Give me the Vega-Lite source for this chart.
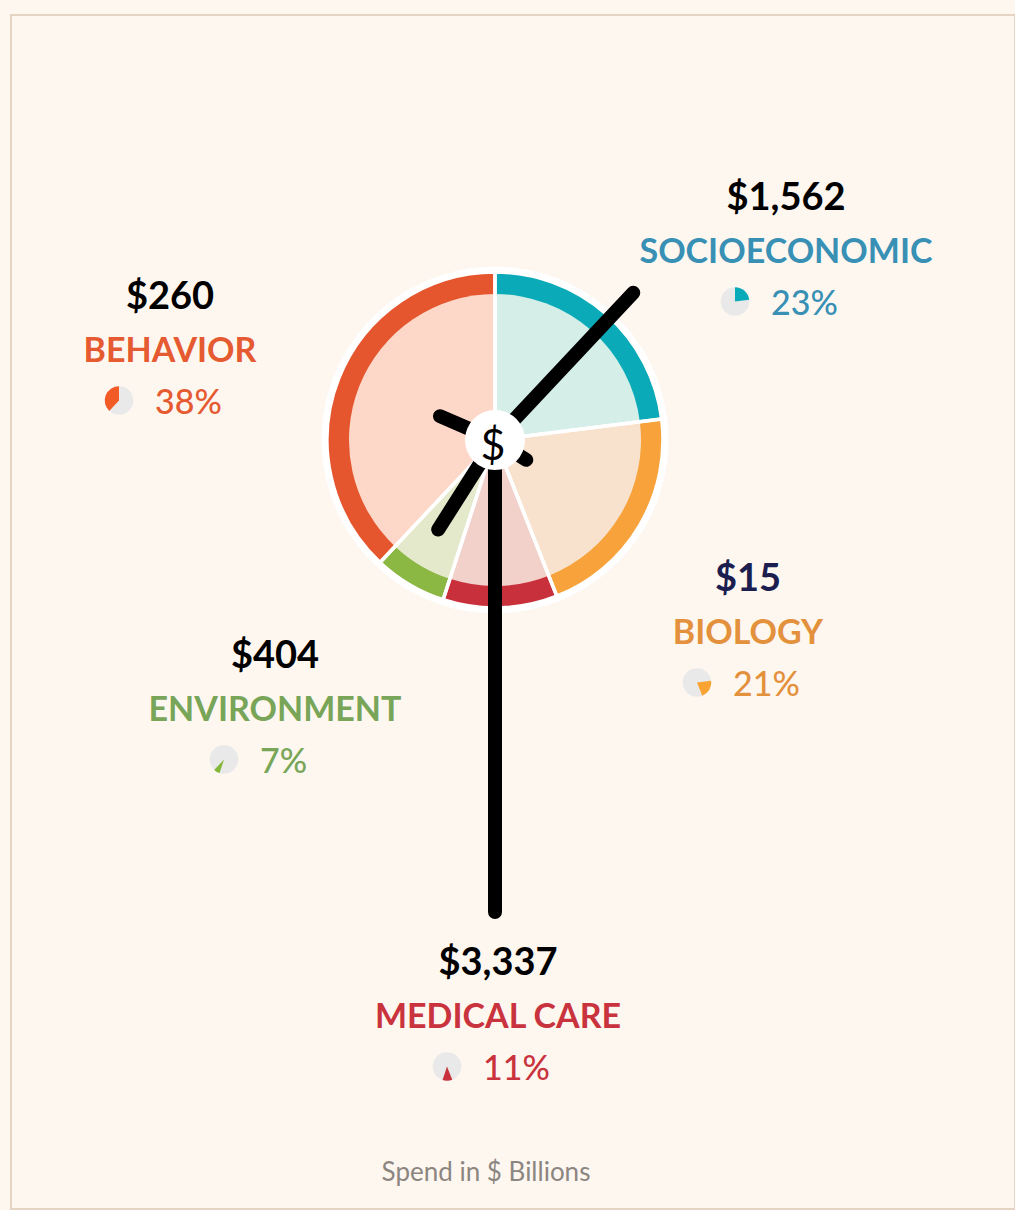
{
  "$schema": "https://vega.github.io/schema/vega-lite/v6.json",
  "width": 1004,
  "height": 1194,
  "autosize": {"type": "none"},
  "padding": {"left": 11, "top": 15, "right": 0, "bottom": 1},
  "background": "#fef7f0",
  "config": {
    "view": {"stroke": "#e5d4c2", "strokeWidth": 2, "fill": "#fef7f0"},
    "font": "Lato"
  },
  "title": {
    "text": "Spend in $ Billions",
    "orient": "bottom",
    "anchor": "middle",
    "frame": "group",
    "offset": -28,
    "dx": -27,
    "baseline": "alphabetic",
    "font": "Lato",
    "fontSize": 26,
    "fontWeight": 400,
    "color": "#8c8681"
  },
  "data": {
    "values": [
      {"rank": 1, "category": "SOCIOECONOMIC", "amount": 1562, "pct": 0.23},
      {"rank": 2, "category": "BIOLOGY", "amount": 15, "pct": 0.21},
      {"rank": 3, "category": "MEDICAL CARE", "amount": 3337, "pct": 0.11},
      {"rank": 4, "category": "ENVIRONMENT", "amount": 404, "pct": 0.07},
      {"rank": 5, "category": "BEHAVIOR", "amount": 260, "pct": 0.38}
    ]
  },
  "transform": [
    {"stack": "pct", "groupby": [], "sort": [{"field": "rank", "order": "ascending"}], "as": ["start", "end"]}
  ],
  "layer": [
    {
      "encoding": {
        "x": {"datum": 0, "type": "quantitative", "scale": {"domain": [-484, 520], "nice": false, "zero": false}, "axis": null},
        "y": {"datum": 0, "type": "quantitative", "scale": {"domain": [-425, 769], "reverse": true, "nice": false, "zero": false}, "axis": null}
      },
      "layer": [
        {
          "mark": {"type": "arc", "radius": 173, "innerRadius": 0, "fill": "#ffffff", "stroke": "#ffffff", "strokeWidth": 1},
          "encoding": {
            "theta": {"field": "start", "type": "quantitative", "scale": {"domain": [0, 1]}},
            "theta2": {"field": "end"}
          }
        },
        {
          "mark": {"type": "arc", "radius": 168, "innerRadius": 0},
          "encoding": {
            "theta": {"field": "start", "type": "quantitative", "scale": {"domain": [0, 1]}},
            "theta2": {"field": "end"},
            "fill": {"field": "category", "type": "nominal", "legend": null,
              "scale": {"domain": ["SOCIOECONOMIC", "BIOLOGY", "MEDICAL CARE", "ENVIRONMENT", "BEHAVIOR"],
                        "range": ["#0aaab9", "#f7a23a", "#c8313b", "#8bb743", "#e5562f"]}}
          }
        },
        {
          "mark": {"type": "arc", "radius": 146, "innerRadius": 0},
          "encoding": {
            "theta": {"field": "start", "type": "quantitative", "scale": {"domain": [0, 1]}},
            "theta2": {"field": "end"},
            "color": {"field": "category", "type": "nominal", "legend": null,
              "scale": {"domain": ["SOCIOECONOMIC", "BIOLOGY", "MEDICAL CARE", "ENVIRONMENT", "BEHAVIOR"],
                        "range": ["#d5efe8", "#f8e2cd", "#f3d1cb", "#e5e9cc", "#fdd8c9"]}}
          }
        },
        {
          "mark": {"type": "arc", "radius": 168, "innerRadius": 0, "filled": false, "stroke": "#ffffff", "strokeWidth": 3.5},
          "encoding": {
            "theta": {"field": "start", "type": "quantitative", "scale": {"domain": [0, 1]}},
            "theta2": {"field": "end"}
          }
        },
        {
          "mark": {"type": "arc", "innerRadius": 0, "padAngle": 3, "filled": false, "stroke": "#000000", "strokeWidth": 14, "strokeJoin": "round", "strokeCap": "round"},
          "encoding": {
            "theta": {"field": "start", "type": "quantitative", "scale": {"domain": [0, 1], "range": [0.0314, 6.3146]}},
            "theta2": {"field": "end"},
            "radius": {"field": "amount", "type": "quantitative",
              "scale": {"type": "linear", "domain": [15, 260, 404, 1562, 3337], "range": [37, 60, 106, 202, 472], "zero": false, "nice": false}}
          }
        },
        {
          "data": {"values": [{"symbol": "$"}]},
          "layer": [
            {"mark": {"type": "circle", "size": 3600, "fill": "#ffffff", "opacity": 1, "strokeWidth": 0}},
            {
              "mark": {"type": "text", "font": "Lato", "fontSize": 43, "fontWeight": 400, "align": "center", "baseline": "alphabetic", "dy": 20, "dx": -2, "color": "#000000"},
              "encoding": {"text": {"field": "symbol", "type": "nominal"}}
            }
          ]
        }
      ],
      "resolve": {"scale": {"theta": "independent"}}
    },
    {
      "encoding": {
        "x": {"field": "pct", "type": "quantitative", "axis": null,
          "scale": {"type": "linear", "domain": [0.07, 0.11, 0.21, 0.23, 0.38], "range": [264, 487, 737, 775, 159], "zero": false, "nice": false}},
        "y": {"field": "amount", "type": "quantitative", "axis": null,
          "scale": {"type": "linear", "domain": [15, 260, 404, 1562, 3337], "range": [629, 347, 706, 248, 1013], "zero": false, "nice": false}}
      },
      "layer": [
        {
          "mark": {"type": "text", "font": "Lato", "fontSize": 38, "fontWeight": 700, "align": "center", "baseline": "alphabetic", "dy": -53},
          "encoding": {
            "text": {"field": "amount", "type": "quantitative", "format": "$,.0f"},
            "color": {"condition": {"test": "datum.category === 'BIOLOGY'", "value": "#1b1e4f"}, "value": "#000000"}
          }
        },
        {
          "mark": {"type": "text", "font": "Lato", "fontSize": 34, "fontWeight": 700, "align": "center", "baseline": "alphabetic"},
          "encoding": {
            "text": {"field": "category", "type": "nominal"},
            "color": {"field": "category", "type": "nominal", "legend": null,
              "scale": {"domain": ["SOCIOECONOMIC", "BIOLOGY", "MEDICAL CARE", "ENVIRONMENT", "BEHAVIOR"],
                        "range": ["#3890b5", "#e3913c", "#c9333d", "#78a558", "#e55a30"]}}
          }
        },
        {
          "mark": {"type": "text", "font": "Lato", "fontSize": 34, "fontWeight": 500, "align": "left", "baseline": "alphabetic", "dx": -15, "dy": 52},
          "encoding": {
            "text": {"field": "pct", "type": "quantitative", "format": ".0%"},
            "color": {"field": "category", "type": "nominal", "legend": null}
          }
        },
        {
          "mark": {"type": "circle", "size": 820, "fill": "#e9e9e9", "opacity": 1, "strokeWidth": 0, "xOffset": -51, "yOffset": 38.5}
        },
        {
          "mark": {"type": "arc", "radius": 14.3, "innerRadius": 0, "xOffset": -51, "yOffset": 38.5},
          "encoding": {
            "theta": {"field": "start", "type": "quantitative", "scale": {"domain": [0, 1]}},
            "theta2": {"field": "end"},
            "fill": {"field": "category", "type": "nominal", "legend": null,
              "scale": {"domain": ["SOCIOECONOMIC", "BIOLOGY", "MEDICAL CARE", "ENVIRONMENT", "BEHAVIOR"],
                        "range": ["#0aaab9", "#f9a332", "#c8313b", "#84b638", "#f25a26"]}}
          }
        }
      ]
    }
  ],
  "resolve": {"scale": {"x": "independent", "y": "independent", "color": "independent", "fill": "independent", "theta": "independent"}}
}
